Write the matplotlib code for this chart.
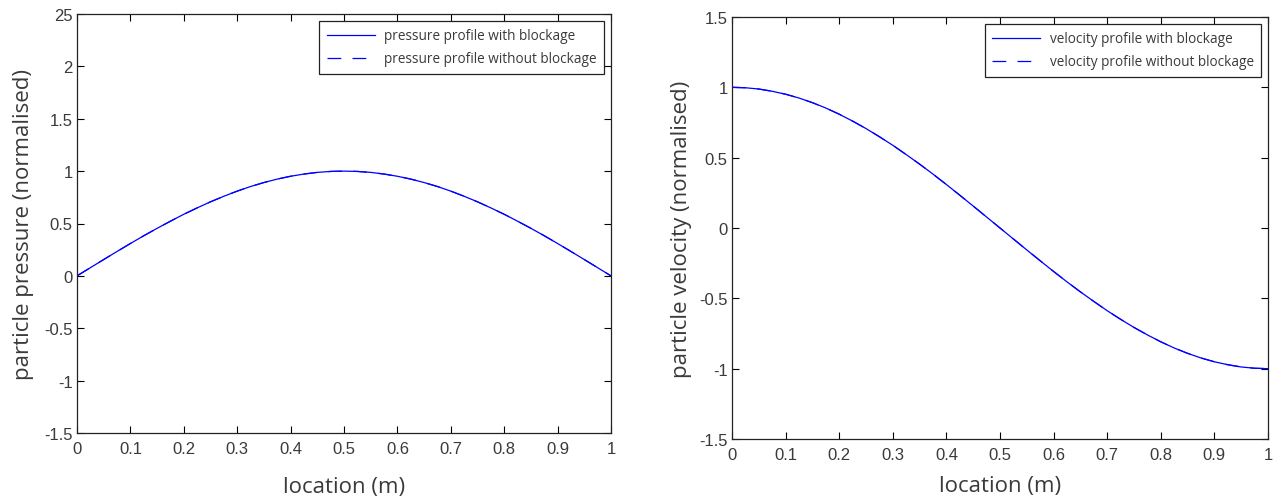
import matplotlib
matplotlib.use("Agg")
import matplotlib.pyplot as plt
import numpy as np

# location along the tube (m)
location = [0.0, 0.025, 0.05, 0.075, 0.1, 0.125, 0.15, 0.175, 0.2, 0.225, 0.25,
            0.275, 0.3, 0.325, 0.35, 0.375, 0.4, 0.425, 0.45, 0.475, 0.5,
            0.525, 0.55, 0.575, 0.6, 0.625, 0.65, 0.675, 0.7, 0.725, 0.75,
            0.775, 0.8, 0.825, 0.85, 0.875, 0.9, 0.925, 0.95, 0.975, 1.0]

# normalised pressure
pressure_with = [0.0, 0.078, 0.156, 0.233, 0.309, 0.383, 0.454, 0.522, 0.588, 0.649, 0.707,
                 0.760, 0.809, 0.853, 0.891, 0.924, 0.951, 0.972, 0.988, 0.997, 1.0,
                 0.997, 0.988, 0.972, 0.951, 0.924, 0.891, 0.853, 0.809, 0.760, 0.707,
                 0.649, 0.588, 0.522, 0.454, 0.383, 0.309, 0.233, 0.156, 0.078, 0.0]
pressure_without = list(pressure_with)

# normalised velocity
velocity_with = [1.0, 0.997, 0.988, 0.972, 0.951, 0.924, 0.891, 0.853, 0.809, 0.760, 0.707,
                 0.649, 0.588, 0.522, 0.454, 0.383, 0.309, 0.233, 0.156, 0.078, 0.0,
                 -0.078, -0.156, -0.233, -0.309, -0.383, -0.454, -0.522, -0.588, -0.649, -0.707,
                 -0.760, -0.809, -0.853, -0.891, -0.924, -0.951, -0.972, -0.988, -0.997, -1.0]
velocity_without = list(velocity_with)

xticks = [0, 0.1, 0.2, 0.3, 0.4, 0.5, 0.6, 0.7, 0.8, 0.9, 1]
xticklabels = ["0", "0.1", "0.2", "0.3", "0.4", "0.5", "0.6", "0.7", "0.8", "0.9", "1"]
p_yticks = [-1.5, -1, -0.5, 0, 0.5, 1, 1.5, 2, 2.5]
p_yticklabels = ["-1.5", "-1", "-0.5", "0", "0.5", "1", "1.5", "2", "25"]
v_yticks = [-1.5, -1, -0.5, 0, 0.5, 1, 1.5]
v_yticklabels = ["-1.5", "-1", "-0.5", "0", "0.5", "1", "1.5"]

W, H = 1279, 502
fig = plt.figure(figsize=(W / 100, H / 100), dpi=100)

tick_font = "Liberation Sans"
label_font = "Open Sans"
txt_col = "#3a3a3a"


def make_axes(box, x, y_with, y_without, yticks, yticklabels, ylim, ylabel, names,
              xpad, ypad):
    l, r, t, b = box
    ax = fig.add_axes([l / W, 1 - b / H, (r - l) / W, (b - t) / H])
    ax.plot(x, y_with, color="#0000ff", lw=0.9, label=names[0])
    ax.plot(x, y_without, color="#0000ff", lw=0.9, ls=(0, (11, 9)), label=names[1])
    ax.set_xlim(0, 1)
    ax.set_ylim(*ylim)
    ax.set_xticks(xticks)
    ax.set_xticklabels(xticklabels, fontfamily=tick_font, fontsize=12, color=txt_col)
    ax.set_yticks(yticks)
    ax.set_yticklabels(yticklabels, fontfamily=tick_font, fontsize=12, color=txt_col)
    ax.tick_params(direction="in", length=5, width=0.8, top=True, right=True)
    ax.tick_params(axis="x", pad=6)
    ax.tick_params(axis="y", pad=3)
    for s in ax.spines.values():
        s.set_linewidth(0.9)
        s.set_color("#222222")
    ax.set_xlabel("location (m)", fontfamily=label_font, fontsize=16, color=txt_col, labelpad=xpad)
    ax.set_ylabel(ylabel, fontfamily=label_font, fontsize=16, color=txt_col, labelpad=ypad)
    leg = ax.legend(loc="upper right", fancybox=False, framealpha=1, edgecolor="#222222",
                    prop={"family": label_font, "size": 9.8}, handlelength=3.5,
                    handletextpad=0.7, borderpad=0.55, labelspacing=0.6,
                    borderaxespad=0.5)
    leg.get_frame().set_linewidth(0.9)
    for tx in leg.get_texts():
        tx.set_color(txt_col)
    return ax


make_axes((77, 611, 15, 434), location, pressure_with, pressure_without,
          p_yticks, p_yticklabels, (-1.5, 2.5), "particle pressure (normalised)",
          ["pressure profile with blockage", "pressure profile without blockage"],
          14, 7.5)
make_axes((732, 1268, 18, 440), location, velocity_with, velocity_without,
          v_yticks, v_yticklabels, (-1.5, 1.5), "particle velocity (normalised)",
          ["velocity profile with blockage", "velocity profile without blockage"],
          9, 5.5)

fig.savefig("out.png", dpi=100)
